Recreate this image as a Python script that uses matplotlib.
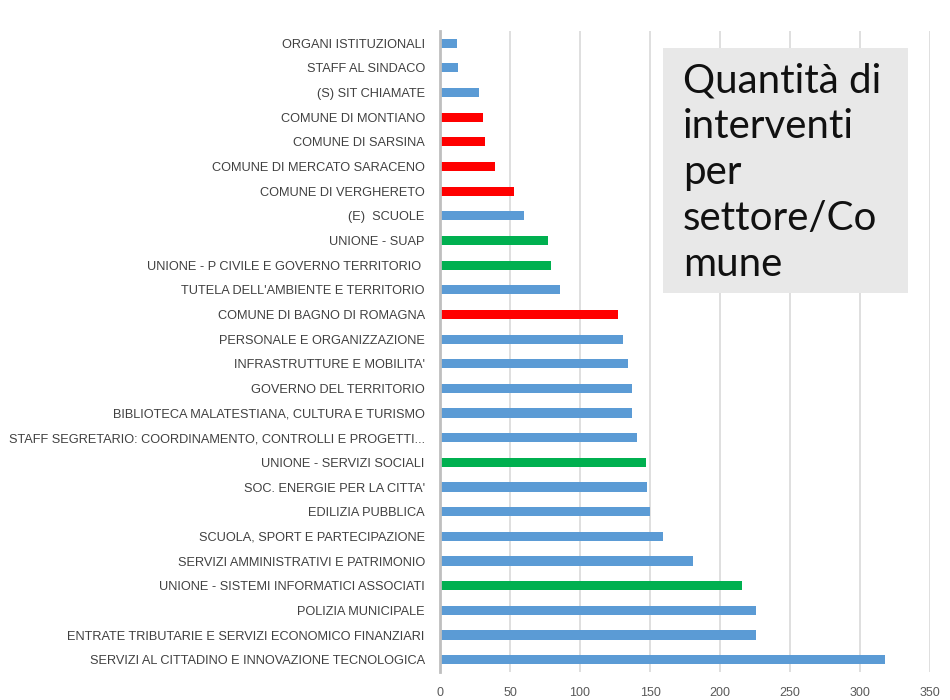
import matplotlib
matplotlib.use("Agg")
import matplotlib.pyplot as plt
from matplotlib.patches import Rectangle

categories = [
    "ORGANI ISTITUZIONALI",
    "STAFF AL SINDACO",
    "(S) SIT CHIAMATE",
    "COMUNE DI MONTIANO",
    "COMUNE DI SARSINA",
    "COMUNE DI MERCATO SARACENO",
    "COMUNE DI VERGHERETO",
    "(E)  SCUOLE",
    "UNIONE - SUAP",
    "UNIONE - P CIVILE E GOVERNO TERRITORIO ",
    "TUTELA DELL'AMBIENTE E TERRITORIO",
    "COMUNE DI BAGNO DI ROMAGNA",
    "PERSONALE E ORGANIZZAZIONE",
    "INFRASTRUTTURE E MOBILITA'",
    "GOVERNO DEL TERRITORIO",
    "BIBLIOTECA MALATESTIANA, CULTURA E TURISMO",
    "STAFF SEGRETARIO: COORDINAMENTO, CONTROLLI E PROGETTI...",
    "UNIONE - SERVIZI SOCIALI",
    "SOC. ENERGIE PER LA CITTA'",
    "EDILIZIA PUBBLICA",
    "SCUOLA, SPORT E PARTECIPAZIONE",
    "SERVIZI AMMINISTRATIVI E PATRIMONIO",
    "UNIONE - SISTEMI INFORMATICI ASSOCIATI",
    "POLIZIA MUNICIPALE",
    "ENTRATE TRIBUTARIE E SERVIZI ECONOMICO FINANZIARI",
    "SERVIZI AL CITTADINO E INNOVAZIONE TECNOLOGICA",
]
values = [12, 13, 28, 31, 32, 39, 53, 60, 77, 79, 86, 127, 131, 134, 137, 137,
          141, 147, 148, 150, 159, 181, 216, 226, 226, 318]
groups = ["s", "s", "s", "c", "c", "c", "c", "s", "u", "u", "s", "c", "s", "s",
          "s", "s", "s", "u", "s", "s", "s", "s", "u", "s", "s", "s"]
group_colors = {"s": "#5b9bd5", "c": "#ff0000", "u": "#00b050"}
xticks = [0, 50, 100, 150, 200, 250, 300, 350]
title_text = "Quantità di\ninterventi\nper\nsettore/Co\nmune"

label_font = "Liberation Sans"

fig = plt.figure(figsize=(9.5, 7), dpi=100)
ax = fig.add_axes([0.4632, 0.04, 0.5158, 0.916])

y = list(range(len(categories)))
ax.barh(y, values, height=0.37, color=[group_colors[g] for g in groups], zorder=3)
ax.set_yticks(y)
ax.set_yticklabels(categories, fontsize=9.2, color="#404040", family=label_font)
ax.set_ylim(len(categories) - 0.5, -0.5)
ax.set_xlim(0, 350)
ax.set_xticks(xticks)
ax.set_xticklabels([str(t) for t in xticks], fontsize=9, color="#595959", family=label_font)
ax.tick_params(axis="both", length=0)
ax.tick_params(axis="y", pad=11)
ax.tick_params(axis="x", pad=11)
ax.grid(axis="x", color="#d9d9d9", linewidth=1.2, zorder=0)
for s in ["top", "right", "bottom"]:
    ax.spines[s].set_visible(False)
ax.spines["left"].set_color("#bfbfbf")
ax.spines["left"].set_linewidth(2)
ax.spines["left"].set_zorder(4)

# text box
fig.patches.append(Rectangle((663 / 950, 1 - 293 / 700), 245 / 950, 245 / 700,
                             transform=fig.transFigure, facecolor="#e8e8e8",
                             edgecolor="none", zorder=5))
fig.text(683 / 950, 1 - 62 / 700, title_text, ha="left", va="top", fontsize=29,
         color="#111111", family=["Lato", "DejaVu Sans"], fontweight="normal",
         linespacing=1.3, zorder=6)

fig.savefig("out.png", dpi=100)
